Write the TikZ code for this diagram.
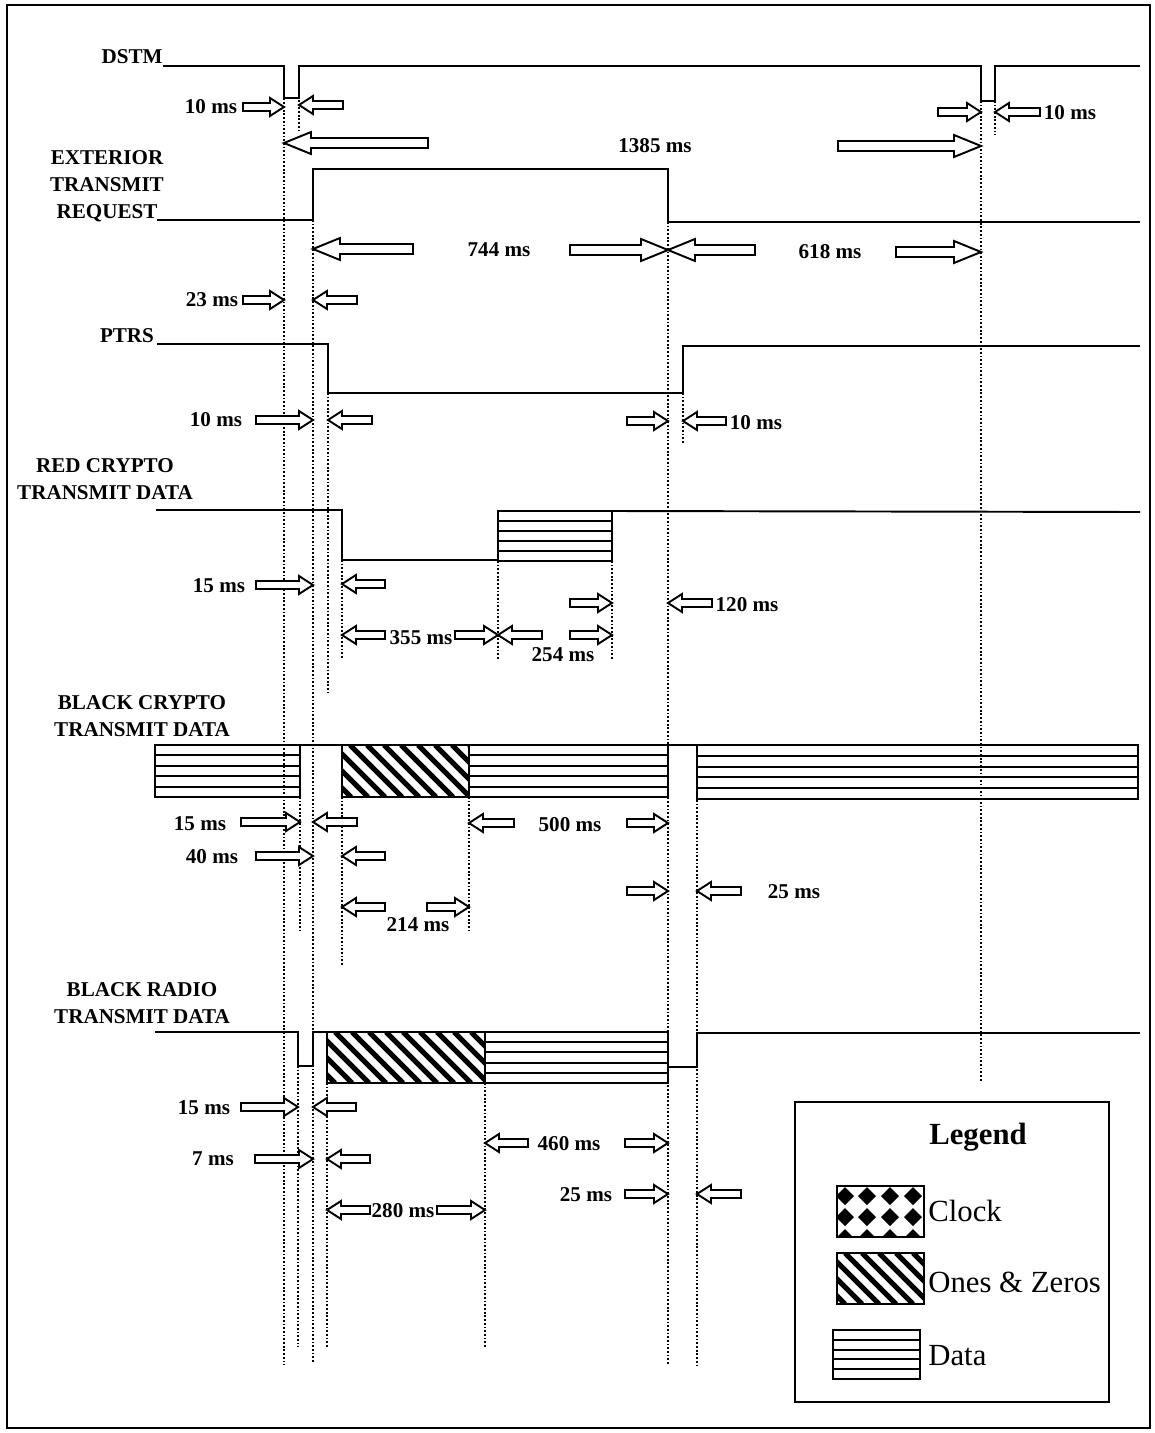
\documentclass[tikz,border=0pt]{standalone}
\usepackage{fontspec}
\setmainfont{Liberation Serif}
\usepackage{tikz}
\usetikzlibrary{calc}
\tikzset{
  % Timing diagram styles
  signal/.style={line width=1.1pt, line join=miter},
  guide/.style={line width=1pt, dash pattern=on 1pt off 1.1pt},
  blockarrow/.style={line width=1.1pt, fill=white, line join=miter},
  hatchline/.style={line width=3pt},
  siglabel/.style={font=\bfseries\fontsize{12}{15.5}\selectfont, align=center, inner sep=0pt},
  ms/.style={font=\bfseries\fontsize{12}{14}\selectfont, inner sep=0pt},
  legendtxt/.style={font=\fontsize{17.5}{20}\selectfont, anchor=west, inner sep=0pt},
}
% hollow block arrows: [shaft/head/headlength]{tail}{tip}{y}
\newcommand{\rarr}[4][4/9/14]{%
  \foreach \sa/\ha/\la in {#1}{%
    \draw[blockarrow] (#2,#4-\sa) -- (#3-\la,#4-\sa) -- (#3-\la,#4-\ha) -- (#3,#4)
      -- (#3-\la,#4+\ha) -- (#3-\la,#4+\sa) -- (#2,#4+\sa) -- cycle;}}
\newcommand{\larr}[4][4/9/14]{%
  \foreach \sa/\ha/\la in {#1}{%
    \draw[blockarrow] (#2,#4-\sa) -- (#3+\la,#4-\sa) -- (#3+\la,#4-\ha) -- (#3,#4)
      -- (#3+\la,#4+\ha) -- (#3+\la,#4+\sa) -- (#2,#4+\sa) -- cycle;}}
% striped data block and diagonal ones/zeros block
\newcommand{\databox}[4]{%
  \draw[signal] (#1,#2) rectangle (#3,#4);
  \foreach \k in {1,...,4}
    \draw[signal] (#1,{#2+\k*(#4-#2)/5}) -- (#3,{#2+\k*(#4-#2)/5});}
\newcommand{\hatchbox}[4]{%
  \begin{scope}
    \clip (#1,#2) rectangle (#3,#4);
    \foreach \t in {-60,-43,...,180}
      \draw[hatchline] ({#1+\t},#2) -- ({#1+\t+#4-#2},#4);
  \end{scope}
  \draw[signal] (#1,#2) rectangle (#3,#4);}

\begin{document}
\begin{tikzpicture}[x=0.02cm, y=-0.02cm]
    \useasboundingbox (0,0) rectangle (1154,1433);
    \draw[line width=1pt] (7,5) rectangle (1150,1428);

    % Guide lines
    \draw[guide] (284,95) -- (284,1365);
    \draw[guide] (299,100) -- (299,133);
    \draw[guide] (981,101) -- (981,1082);
    \draw[guide] (995,101) -- (995,135);
    \draw[guide] (313,220) -- (313,1363);
    \draw[guide] (668,222) -- (668,1365);
    \draw[guide] (328,393) -- (328,692);
    \draw[guide] (683,393) -- (683,443);
    \draw[guide] (342,560) -- (342,658);
    \draw[guide] (498,561) -- (498,660);
    \draw[guide] (612,561) -- (612,660);
    \draw[guide] (300,797) -- (300,930);
    \draw[guide] (342,797) -- (342,965);
    \draw[guide] (469,797) -- (469,930);
    \draw[guide] (697,800) -- (697,1368);
    \draw[guide] (298,1066) -- (298,1347);
    \draw[guide] (327,1083) -- (327,1347);
    \draw[guide] (485,1083) -- (485,1348);

    % DSTM
    \node[siglabel, anchor=base east] (dstm) at (163,64) {DSTM};
    \draw[signal] (163,66) -- (284,66) -- (284,98) -- (299,98) -- (299,66) -- (981,66)
      -- (981,101) -- (995,101) -- (995,66) -- (1140,66);
    \node[ms] (dstma) at (211,107) {10 ms};
    \rarr{243}{284}{107}
    \larr{343}{299}{105}
    \rarr{938}{981}{112}
    \larr{1040}{995}{112}
    \node[ms] (dstmb) at (1070,113) {10 ms};
    \larr[5/11/27]{428}{284}{143}
    \node[ms] (cycle) at (655,146) {1385 ms};
    \rarr[5/11/27]{838}{981}{146}

    % Exterior transmit request
    \node[siglabel] (etr) at (107,186) {EXTERIOR\\TRANSMIT\\REQUEST};
    \draw[signal] (157,220) -- (313,220) -- (313,169) -- (668,169) -- (668,222) -- (1140,222);
    \larr[5/11/27]{413}{313}{249}
    \node[ms] (etrhigh) at (499,250) {744 ms};
    \rarr[5/11/27]{570}{668}{250}
    \larr[5/11/27]{755}{668}{250}
    \node[ms] (etrlow) at (830,252) {618 ms};
    \rarr[5/11/27]{896}{981}{252}
    \node[ms] (etrdel) at (212,300) {23 ms};
    \rarr{243}{284}{300}
    \larr{357}{313}{300}

    % PTRS
    \node[siglabel] (ptrs) at (127,336) {PTRS};
    \draw[signal] (157,344) -- (328,344) -- (328,393) -- (683,393) -- (683,346) -- (1140,346);
    \node[ms] (ptrsa) at (216,420) {10 ms};
    \rarr{256}{313}{420}
    \larr{372}{328}{420}
    \rarr{627}{668}{421}
    \larr{726}{683}{421}
    \node[ms] (ptrsb) at (756,423) {10 ms};

    % Red crypto transmit data
    \node[siglabel] (red) at (105,479) {RED CRYPTO\\TRANSMIT DATA};
    \draw[signal] (156,510) -- (342,510) -- (342,560) -- (498,560);
    \databox{498}{511}{612}{561}
    \draw[signal] (612,511) -- (1140,512);
    \node[ms] (reda) at (219,586) {15 ms};
    \rarr{256}{313}{585}
    \larr{385}{342}{584}
    \rarr{570}{612}{603}
    \larr{712}{668}{603}
    \node[ms] (redb) at (747,605) {120 ms};
    \larr{385}{342}{635}
    \node[ms] (redc) at (421,638) {355 ms};
    \rarr{455}{498}{635}
    \larr{542}{498}{635}
    \rarr{570}{612}{635}
    \node[ms] (redd) at (563,655) {254 ms};

    % Black crypto transmit data
    \node[siglabel] (bcr) at (142,716) {BLACK CRYPTO\\TRANSMIT DATA};
    \databox{155}{745}{300}{797}
    \draw[signal] (300,745) -- (342,745);
    \hatchbox{342}{745}{469}{797}
    \databox{469}{745}{668}{797}
    \draw[signal] (668,745) -- (697,745);
    \databox{697}{745}{1138}{799}
    \node[ms] (bcra) at (200,824) {15 ms};
    \rarr{241}{300}{822}
    \larr{357}{313}{822}
    \larr{514}{469}{823}
    \node[ms] (bcrb) at (570,825) {500 ms};
    \rarr{627}{668}{823}
    \node[ms] (bcrc) at (212,857) {40 ms};
    \rarr{256}{313}{856}
    \larr{385}{342}{856}
    \rarr{627}{668}{891}
    \larr{741}{697}{891}
    \node[ms] (bcrd) at (794,892) {25 ms};
    \larr{385}{342}{907}
    \rarr{427}{469}{907}
    \node[ms] (bcre) at (418,925) {214 ms};

    % Black radio transmit data
    \node[siglabel] (brd) at (142,1003) {BLACK RADIO\\TRANSMIT DATA};
    \draw[signal] (155,1032) -- (298,1032) -- (298,1066) -- (313,1066) -- (313,1032) -- (327,1032);
    \hatchbox{327}{1032}{485}{1083}
    \databox{485}{1032}{668}{1083}
    \draw[signal] (668,1067) -- (697,1067) -- (697,1033) -- (1140,1033);
    \node[ms] (brda) at (204,1108) {15 ms};
    \rarr{241}{298}{1107}
    \larr{356}{313}{1107}
    \node[ms] (brdb) at (213,1159) {7 ms};
    \rarr{255}{313}{1159}
    \larr{370}{327}{1159}
    \larr{528}{485}{1143}
    \node[ms] (brdc) at (569,1144) {460 ms};
    \rarr{625}{668}{1143}
    \node[ms] (brdd) at (586,1195) {25 ms};
    \rarr{625}{668}{1194}
    \larr{741}{697}{1194}
    \larr{370}{327}{1210}
    \node[ms] (brde) at (403,1211) {280 ms};
    \rarr{437}{485}{1210}

    % Legend
    \draw[signal] (795,1102) rectangle (1109,1402);
    \node[font=\bfseries\fontsize{17.5}{20}\selectfont, inner sep=0pt] (legend) at (978,1137) {Legend};
    \begin{scope}
      \clip (837,1186) rectangle (924,1237);
      \foreach \cx in {845,867,890,913}
        \foreach \cy in {1196,1217,1238}
          \fill (\cx,\cy-9) -- (\cx+9,\cy) -- (\cx,\cy+9) -- (\cx-9,\cy) -- cycle;
    \end{scope}
    \draw[signal] (837,1186) rectangle (924,1237);
    \node[legendtxt] (clock) at (928,1211) {Clock};
    \hatchbox{837}{1253}{924}{1304}
    \node[legendtxt] (ones) at (928,1282) {Ones \& Zeros};
    \databox{833}{1330}{920}{1379}
    \node[legendtxt] (data) at (928,1356) {Data};
  \end{tikzpicture}
\end{document}
